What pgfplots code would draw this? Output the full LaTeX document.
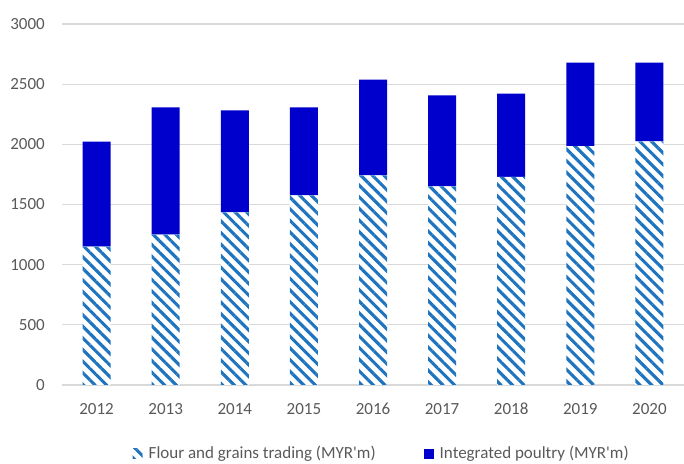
\documentclass[border=0pt]{standalone}
\usepackage{pgfplots}
\pgfplotsset{compat=1.18}
\usetikzlibrary{patterns.meta}
\usepackage{fontspec}
\setmainfont{Carlito}[Ligatures=TeXOff]
\definecolor{hatchblue}{HTML}{1F74C0}
\definecolor{solidblue}{HTML}{0000CC}
\definecolor{txtgray}{HTML}{595959}
\definecolor{gridgray}{HTML}{D9D9D9}
\begin{document}
\fontsize{17bp}{20bp}\selectfont
\begin{tikzpicture}
\useasboundingbox (0,0) rectangle (684bp,464bp);
\begin{axis}[
  at={(62bp,79bp)}, anchor=south west,
  scale only axis, width=622bp, height=361bp,
  ybar stacked, bar width=28bp,
  xmin=-0.5, xmax=8.5, ymin=0, ymax=3000,
  ytick={0,500,...,3000},
  xtick={0,...,8},
  xticklabels={2012,2013,2014,2015,2016,2017,2018,2019,2020},
  axis line style={draw=none},
  major tick length=0pt,
  ymajorgrids, grid style={gridgray, line width=1.3bp},
  /pgf/number format/assume math mode=true,
  /pgf/number format/1000 sep={},
  ticklabel style={font=\fontsize{17bp}{20bp}\selectfont, text=txtgray},
  yticklabel style={inner sep=0pt, xshift=-17bp},
  xticklabel style={inner sep=0pt, yshift=-18bp},
  legend columns=2,
  legend style={at={(0.514,-0.191)}, anchor=center, draw=none, fill=none,
    inner sep=0pt, font=\fontsize{17bp}{20bp}\selectfont, text=txtgray,
    /tikz/every odd column/.append style={column sep=4bp},
    /tikz/every even column/.append style={column sep=46bp}},
  legend cell align=left,
  legend image code/.code={\path[#1] (0bp,-5bp) rectangle (10bp,5bp);},
]
\addplot[draw=none, fill=white, postaction={pattern={Lines[angle=-45,distance=8.2bp,line width=3.1bp]}, pattern color=hatchblue}]
  coordinates {(0,1149) (1,1249) (2,1435) (3,1576) (4,1743) (5,1650) (6,1729) (7,1986) (8,2025)};
\addlegendentry{Flour and grains trading (MYR'm)}
\addplot[draw=none, fill=solidblue]
  coordinates {(0,873) (1,1059) (2,848) (3,732) (4,794) (5,757) (6,692) (7,692) (8,653)};
\addlegendentry{Integrated poultry (MYR'm)}
\end{axis}
\end{tikzpicture}
\end{document}
